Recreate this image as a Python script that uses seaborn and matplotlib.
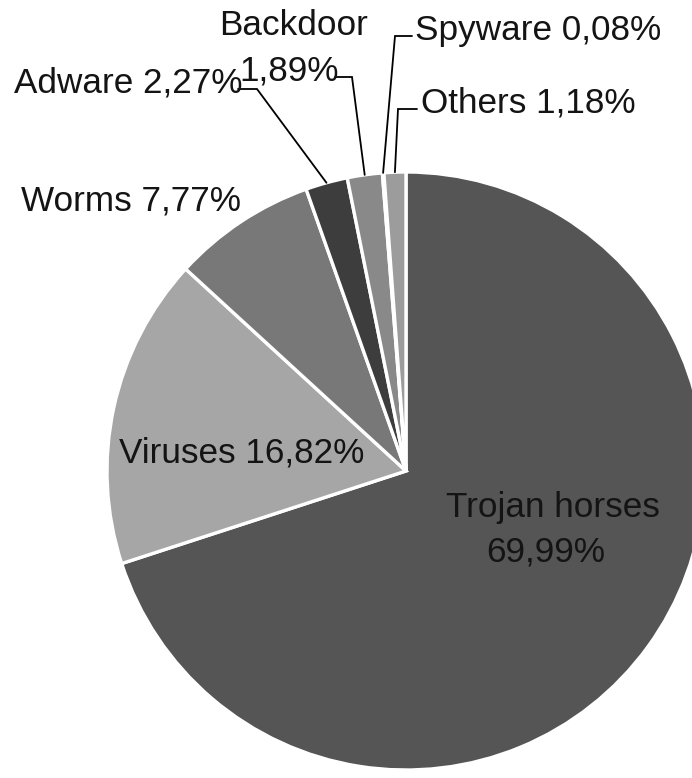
import matplotlib
matplotlib.use("Agg")
import matplotlib.pyplot as plt
import seaborn as sns
import numpy as np

# ---- data ----
categories = ["Trojan horses", "Viruses", "Worms", "Adware", "Backdoor", "Spyware", "Others"]
values = [69.99, 16.82, 7.77, 2.27, 1.89, 0.08, 1.18]
value_labels = ["69,99%", "16,82%", "7,77%", "2,27%", "1,89%", "0,08%", "1,18%"]
colors = ["#555555", "#a6a6a6", "#787878", "#3d3d3d", "#898989", "#d8d8d8", "#9c9c9c"]

sns.set_theme(style="white")
plt.rcParams['font.family'] = ['Liberation Sans', 'DejaVu Sans']

W, H = 692, 778
fig = plt.figure(figsize=(W / 100, H / 100), dpi=100)
ax = fig.add_axes([0, 0, 1, 1])
ax.set_xlim(0, W)
ax.set_ylim(0, H)
ax.set_aspect('equal')
ax.axis('off')

def Y(y):
    return H - y

cx, cy, R = 406, 471, 299
wedges, _ = ax.pie(values, colors=colors, startangle=90, counterclock=False,
                   center=(cx, Y(cy)), radius=R, frame=True,
                   wedgeprops=dict(edgecolor='white', linewidth=2.4))
ax.set_xlim(0, W)
ax.set_ylim(0, H)
ax.axis('off')

fs = 25.3
tc = '#141414'

def txt(x, y, s, ha='left'):
    ax.text(x, Y(y), s, fontsize=fs, color=tc, ha=ha, va='baseline')

txt(553, 517, categories[0], ha='center')
txt(546, 562, value_labels[0], ha='center')
txt(119, 462, f"{categories[1]} {value_labels[1]}")
txt(21, 210, f"{categories[2]} {value_labels[2]}")
txt(14, 92, f"{categories[3]} {value_labels[3]}")
txt(294, 35, categories[4], ha='center')
txt(289, 80, value_labels[4], ha='center')
txt(415, 40, f"{categories[5]} {value_labels[5]}")
txt(421, 112, f"{categories[6]} {value_labels[6]}")

# leader lines: horizontal segment, then down to the wedge's mid point on the rim
leaders = {3: (238, 257, 89), 4: (335, 352, 77), 5: (412, 395, 36), 6: (417, 398, 109)}
for i, (x0, x1, yl) in leaders.items():
    w = wedges[i]
    ang = np.deg2rad((w.theta1 + w.theta2) / 2)
    ex = cx + R * np.cos(ang)
    ey = Y(cy) + R * np.sin(ang)
    ax.plot([x0, x1, ex], [Y(yl), Y(yl), ey], color='black', lw=1.3,
            solid_joinstyle='miter')

fig.savefig("out.png", dpi=100, facecolor='white')
